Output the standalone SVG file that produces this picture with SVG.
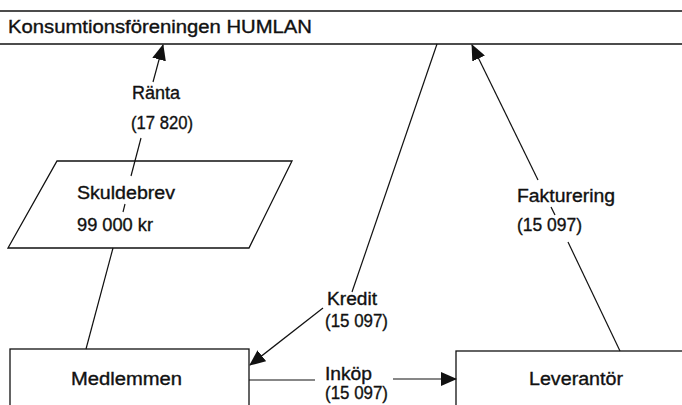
<svg xmlns="http://www.w3.org/2000/svg" width="682" height="405" viewBox="0 0 682 405">
<style>
  .t { font-family: "Liberation Sans", Arial, sans-serif; font-size: 18px; fill: #111; stroke: #111; stroke-width: 0.35; }
  .ln { stroke: #111; stroke-width: 1.2; fill: none; }
  .bx { stroke: #111; stroke-width: 1.3; fill: #fff; }
</style>
<defs>
  <marker id="ah" markerUnits="userSpaceOnUse" markerWidth="16" markerHeight="14" refX="15" refY="7" orient="auto">
    <path d="M0,0 L16,7 L0,14 Z" fill="#111"/>
  </marker>
</defs>
<rect width="682" height="405" fill="#fff"/>

<g id="humlan">
  <line x1="0" y1="11" x2="682" y2="11" stroke="#111" stroke-width="1.5"/>
  <line x1="0" y1="44" x2="682" y2="44" stroke="#111" stroke-width="1.5"/>
  <text class="t" x="8" y="33" textLength="304" lengthAdjust="spacingAndGlyphs">Konsumtionsföreningen HUMLAN</text>
</g>

<g id="skuldebrev">
  <polygon class="bx" points="57,161 292,161 249,248 8,248"/>
  <text class="t" x="77" y="199" textLength="98" lengthAdjust="spacingAndGlyphs">Skuldebrev</text>
  <text class="t" x="77" y="231" textLength="76" lengthAdjust="spacingAndGlyphs">99 000 kr</text>
</g>

<g id="medlemmen">
  <rect class="bx" x="10" y="349" width="239" height="70"/>
  <text class="t" x="71" y="385" textLength="111" lengthAdjust="spacingAndGlyphs">Medlemmen</text>
</g>

<g id="leverantor">
  <rect class="bx" x="456" y="351" width="240" height="70"/>
  <text class="t" x="529" y="385" textLength="94" lengthAdjust="spacingAndGlyphs">Leverantör</text>
</g>

<g id="connectors">
  <!-- Ränta -->
  <line class="ln" x1="153" y1="82" x2="163" y2="45" marker-end="url(#ah)"/>
  <line class="ln" x1="141" y1="138" x2="131" y2="176"/>
  <line class="ln" x1="125" y1="204" x2="123" y2="212"/>
  <!-- Skuldebrev to Medlemmen -->
  <line class="ln" x1="113" y1="248" x2="86" y2="349"/>
  <!-- Kredit -->
  <line class="ln" x1="437" y1="44" x2="352" y2="292"/>
  <line class="ln" x1="323" y1="308" x2="250" y2="365" marker-end="url(#ah)"/>
  <!-- Fakturering -->
  <line class="ln" x1="620" y1="351" x2="568" y2="242"/>
  <line class="ln" x1="555" y1="215" x2="551" y2="207"/>
  <line class="ln" x1="538" y1="180" x2="472" y2="45" marker-end="url(#ah)"/>
  <!-- Inköp -->
  <line class="ln" x1="249" y1="380" x2="315" y2="380"/>
  <line class="ln" x1="393" y1="379" x2="456" y2="379" marker-end="url(#ah)"/>
</g>

<g id="labels">
  <text class="t" x="132" y="99" textLength="48" lengthAdjust="spacingAndGlyphs">Ränta</text>
  <text class="t" x="131" y="129" textLength="62" lengthAdjust="spacingAndGlyphs">(17 820)</text>
  <text class="t" x="517" y="202" textLength="98" lengthAdjust="spacingAndGlyphs">Fakturering</text>
  <text class="t" x="517" y="231" textLength="65" lengthAdjust="spacingAndGlyphs">(15 097)</text>
  <text class="t" x="327" y="305" textLength="50" lengthAdjust="spacingAndGlyphs">Kredit</text>
  <text class="t" x="325" y="327" textLength="63" lengthAdjust="spacingAndGlyphs">(15 097)</text>
  <text class="t" x="325" y="380" textLength="47" lengthAdjust="spacingAndGlyphs">Inköp</text>
  <text class="t" x="325" y="399" textLength="63" lengthAdjust="spacingAndGlyphs">(15 097)</text>
</g>
</svg>
